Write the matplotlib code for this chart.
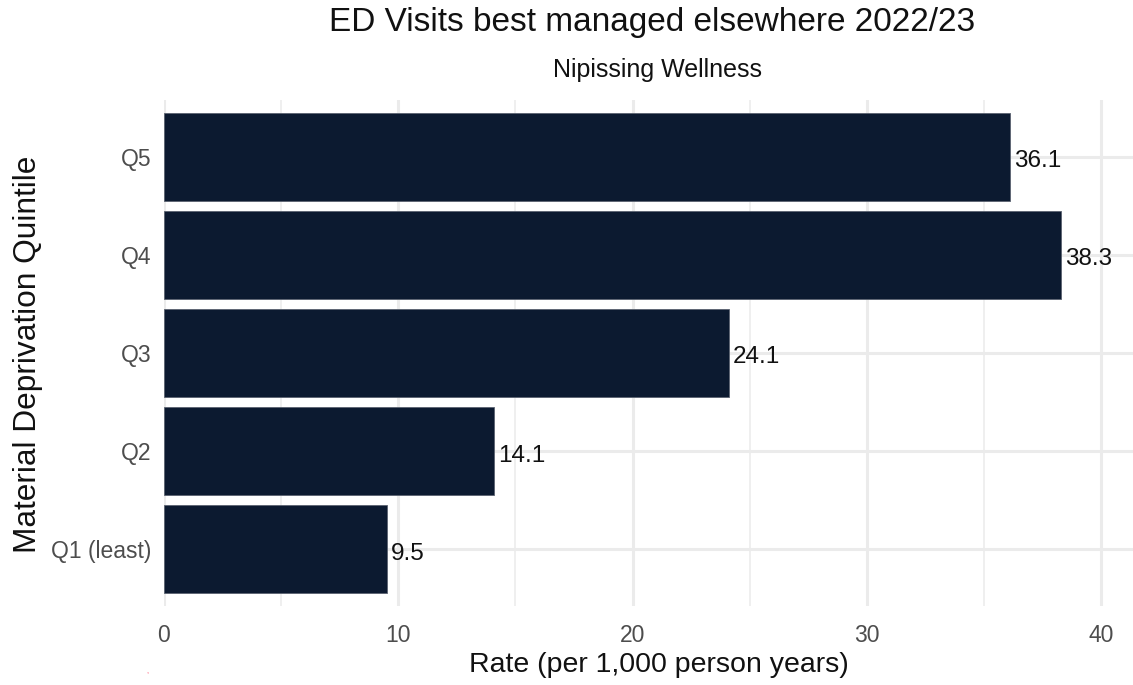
import matplotlib
matplotlib.use("Agg")
import matplotlib.pyplot as plt

categories = ["Q1 (least)", "Q2", "Q3", "Q4", "Q5"]
values = [9.5, 14.1, 24.1, 38.3, 36.1]
x_ticks = [0, 10, 20, 30, 40]
title = "ED Visits best managed elsewhere 2022/23"
subtitle = "Nipissing Wellness"
xlabel = "Rate (per 1,000 person years)"
ylabel = "Material Deprivation Quintile"

plt.rcParams['font.family'] = ['Liberation Sans', 'DejaVu Sans']

fig = plt.figure(figsize=(11.33, 6.85), dpi=100)
ax = fig.add_axes([164/1133, 1-606/685, (1133-164)/1133, (606-100)/685])

ypos = list(range(1, len(categories) + 1))
ax.barh(ypos, values, height=0.9, color="#0c1a30", edgecolor="#5a6270", linewidth=0.6, zorder=3)
for y, v in zip(ypos, values):
    ax.text(v + 0.17, y - 0.02, f"{v:.1f}", va="center_baseline", ha="left", fontsize=17.5, color="#111111", zorder=4)

ax.set_xlim(0, 41.36)
ax.set_ylim(0.42, 5.58)
ax.set_xticks(x_ticks)
ax.set_xticks([5, 15, 25, 35], minor=True)
ax.set_yticks(ypos)
ax.set_yticklabels(categories)
ax.grid(True, which="major", color="#ebebeb", linewidth=2.2, zorder=0)
ax.grid(True, which="minor", axis="x", color="#ebebeb", linewidth=1.1, zorder=0)
ax.set_axisbelow(True)
for s in ax.spines.values():
    s.set_visible(False)
ax.tick_params(axis="both", which="both", length=0, labelsize=16.5, labelcolor="#4d4d4d")
ax.tick_params(axis="x", pad=13)
ax.tick_params(axis="y", pad=9)

fig.text(659/1133, 1-665/685, xlabel, ha="center", va="center", fontsize=20.5, color="#111111")
fig.text(28/1133, 1-354/685, ylabel, ha="center", va="center", rotation=90, fontsize=22.8, color="#111111")

fig.text(0.5755, 1-23/685, title, ha="center", va="center", fontsize=24, color="#111111")
fig.text(0.5805, 1-70/685, subtitle, ha="center", va="center", fontsize=18, color="#111111")
fig.text(147/1133, 1-672/685, ",", ha="center", va="center", fontsize=5, color="#ff3355")

fig.savefig("out.png", dpi=100)
